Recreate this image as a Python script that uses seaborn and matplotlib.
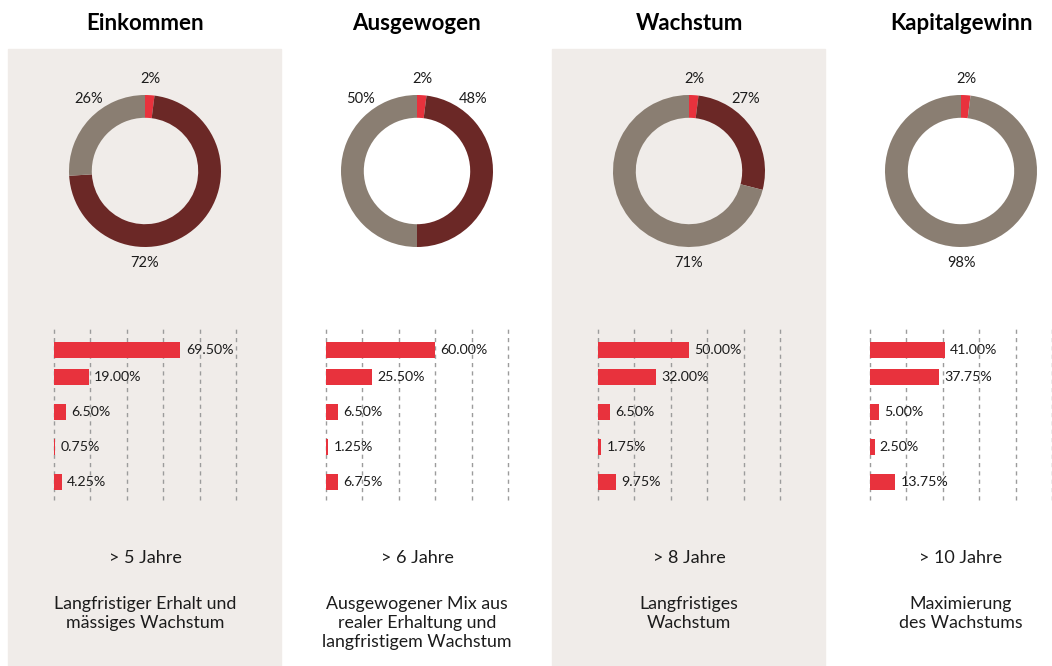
import matplotlib
matplotlib.use('Agg')
import numpy as np
import pandas as pd
import matplotlib.pyplot as plt
import seaborn as sns
from matplotlib.patches import Rectangle

# data
titles = ['Einkommen', 'Ausgewogen', 'Wachstum', 'Kapitalgewinn']
donut_red = [2, 2, 2, 2]
donut_dark = [72, 48, 27, 0]
donut_grey = [26, 50, 71, 98]
bars_einkommen = [69.50, 19.00, 6.50, 0.75, 4.25]
bars_ausgewogen = [60.00, 25.50, 6.50, 1.25, 6.75]
bars_wachstum = [50.00, 32.00, 6.50, 1.75, 9.75]
bars_kapital = [41.00, 37.75, 5.00, 2.50, 13.75]
horizons = ['> 5 Jahre', '> 6 Jahre', '> 8 Jahre', '> 10 Jahre']
descriptions = ['Langfristiger Erhalt und\nmässiges Wachstum',
                'Ausgewogener Mix aus\nrealer Erhaltung und\nlangfristigem Wachstum',
                'Langfristiges\nWachstum',
                'Maximierung\ndes Wachstums']

# layout
row_pos = [0.23, 1, 2, 3, 4]
label_angles_dark = [180, 38, 38, None]
label_angles_grey = [-38, -38, 180, 180]

RED = '#e8323d'
DARK = '#6b2826'
GREY = '#8a7e72'
BG = '#f0ece9'
INK = '#1c1c1c'

sns.set_style('white')
plt.rcParams['font.family'] = ['Lato', 'DejaVu Sans']

W, H = 1052, 666
fig = plt.figure(figsize=(W / 100, H / 100), dpi=100)
fig.patch.set_facecolor('white')


def box(x0, y0, w, h):
    return [x0 / W, 1 - (y0 + h) / H, w / W, h / H]


all_bars = [bars_einkommen, bars_ausgewogen, bars_wachstum, bars_kapital]

for i in range(4):
    off = 272 * i
    cx = 145 + off
    if i % 2 == 0:
        fig.patches.append(Rectangle(((8 + off) / W, 0), 273 / W, (H - 49) / H,
                                     transform=fig.transFigure, color=BG, zorder=-5))
    fig.text(cx / W, 1 - 24 / H, titles[i], ha='center', va='center',
             fontsize=16, fontweight='bold', color='black')

    # donut
    ax = fig.add_axes(box(cx - 100, 71, 200, 200), zorder=2)
    vals = [donut_red[i], donut_dark[i], donut_grey[i]]
    ax.pie(vals, colors=[RED, DARK, GREY], startangle=90, counterclock=False,
           radius=1, wedgeprops=dict(width=0.3, linewidth=0))
    lim = 100 / 76
    ax.set_xlim(-lim, lim)
    ax.set_ylim(-lim, lim)
    ax.set_aspect('equal')
    ax.axis('off')
    angs = [donut_red[i] / 100 * 180, label_angles_dark[i], label_angles_grey[i]]
    for v, a in zip(vals, angs):
        if v == 0 or a is None:
            continue
        r = np.deg2rad(a)
        ax.text(1.21 * np.sin(r), 1.21 * np.cos(r), f'{v}%', ha='center',
                va='center', fontsize=10.5, color=INK)

    # bars
    bax = fig.add_axes(box(54 + off, 327, 182, 173), zorder=2)
    bax.set_facecolor('none')
    df = pd.DataFrame({'value': all_bars[i], 'row': row_pos})
    gap = np.min(np.diff(row_pos))
    sns.barplot(data=df, x='value', y='row', orient='y', native_scale=True,
                color=RED, saturation=1, width=(16 / 35) / gap, errorbar=None,
                linewidth=0, ax=bax, zorder=3)
    bax.set_xlim(0, 100)
    bax.set_ylim(4.51, -0.43)
    for g in [0, 20, 40, 60, 80, 100]:
        bax.axvline(g, color='#9c9c9c', lw=1, linestyle=(0, (3, 3)),
                    clip_on=False, zorder=1)
    for v, p in zip(all_bars[i], row_pos):
        bax.annotate(f'{v:.2f}%', (v, p), xytext=(3.8, 0),
                     textcoords='offset points', ha='left', va='center',
                     fontsize=10.2, color=INK)
    bax.set_xticks([])
    bax.set_yticks([])
    bax.set_xlabel('')
    bax.set_ylabel('')
    sns.despine(ax=bax, left=True, bottom=True)

    fig.text(cx / W, 1 - 558 / H, horizons[i], ha='center', va='center',
             fontsize=13, color=INK, zorder=3)
    fig.text(cx / W, 1 - 596 / H, descriptions[i], ha='center', va='top',
             fontsize=12.8, color=INK, linespacing=1.25, zorder=3)

fig.savefig('out.png', dpi=100)
